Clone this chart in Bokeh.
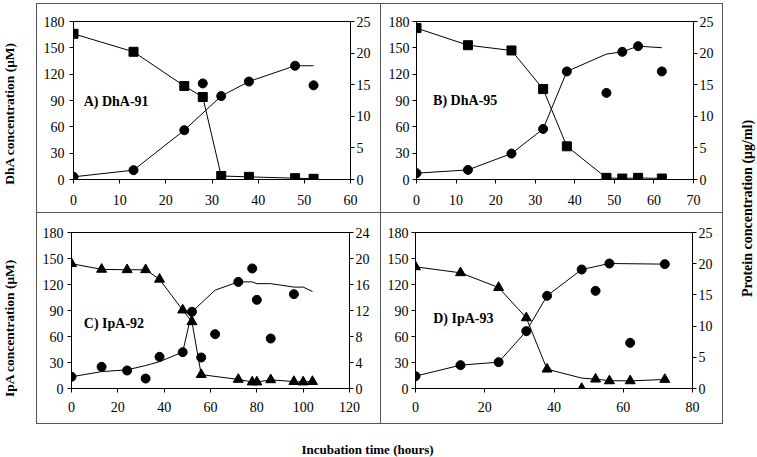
from math import pi
from bokeh.plotting import figure
from bokeh.models import Range1d, LinearAxis, Label, FixedTicker, Spacer
from bokeh.layouts import row, column
from bokeh.embed import file_html
from bokeh.resources import INLINE

FONT = "Liberation Serif"

# ---------------- data ----------------
# Panel A: DhA-91 (squares = DhA, µM; circles = protein, µg/ml)
a_time = [0, 13, 24, 28, 32, 38, 48, 52]
a_dha = [166, 145.5, 106.5, 94, 4, 3, 1.5, 0.8]
a_protein = [0.42, 1.48, 7.8, 15.2, 13.2, 15.5, 18.0, 14.9]
a_trend_time = [0, 13, 24, 32, 38, 48, 52]
a_trend_protein = [0.42, 1.48, 7.8, 13.2, 15.5, 18.0, 18.0]

# Panel B: DhA-95
b_time = [0, 13, 24, 32, 38, 48, 52, 56, 62]
b_dha = [172.5, 153, 147, 103, 37.8, 1.9, 1.1, 1.9, 1.1]
b_protein = [1.0, 1.52, 4.1, 8.0, 17.1, 13.7, 20.2, 21.1, 17.1]
b_trend_time = [0, 13, 24, 32, 38, 48, 52, 56, 62]
b_trend_protein = [1.0, 1.52, 4.1, 8.0, 17.1, 19.85, 20.2, 21.1, 20.85]

# Panel C: IpA-92 (triangles = IpA, µM; circles = protein, µg/ml)
c_time = [0, 13, 24, 32, 38, 48, 52, 56, 72, 78, 80, 86, 96, 100, 104]
c_ipa = [144, 137.5, 137, 137, 126, 90.5, 77, 16, 10.5, 7.5, 7.5, 10, 8, 7.5, 8]
c_prot_time = [0, 13, 24, 32, 38, 48, 52, 56, 62, 72, 78, 80, 86, 96]
c_protein = [1.8, 3.33, 2.77, 1.53, 4.87, 5.59, 11.8, 4.77, 8.36, 16.4, 18.47, 13.64, 7.69, 14.51]
c_trend_time = [0, 13, 24, 32, 38, 48, 52, 62, 72, 78, 80, 86, 96, 100, 104]
c_trend_protein = [1.8, 2.6, 2.87, 3.53, 4.13, 5.6, 11.8, 15.13, 16.4, 16.4, 16.13, 16.13, 15.6, 15.6, 14.93]

# Panel D: IpA-93
d_time = [0, 13, 24, 32, 38, 48, 52, 56, 62, 72]
d_ipa = [140.4, 133.5, 116.5, 81.5, 22.3, 0, 10.8, 8.8, 8.8, 10.4]
d_ipa_trend = [140.4, 133.5, 116.5, 81.5, 22.3, 12, 10.8, 9, 8.8, 10.4]
d_protein = [1.98, 3.74, 4.22, 9.19, 14.85, 19.07, 15.65, 20.03, 7.32, 19.93]
d_trend_time = [0, 13, 24, 32, 38, 48, 56, 72]
d_trend_protein = [1.98, 3.74, 4.22, 9.19, 14.85, 19.07, 20.03, 19.93]

# axis ticks
conc_ticks = [0, 30, 60, 90, 120, 150, 180]
prot_ticks_25 = [0, 5, 10, 15, 20, 25]
prot_ticks_24 = [0, 4, 8, 12, 16, 20, 24]
time_ticks_a = [0, 10, 20, 30, 40, 50, 60]
time_ticks_b = [0, 10, 20, 30, 40, 50, 60, 70]
time_ticks_c = [0, 20, 40, 60, 80, 100, 120]
time_ticks_d = [0, 20, 40, 60, 80]

panel_titles = ["A) DhA-91", "B) DhA-95", "C) IpA-92", "D) IpA-93"]
label_conc_dha = "DhA concentration (\u03bcM)"
label_conc_ipa = "IpA concentration (\u03bcM)"
label_protein = "Protein concentration (\u03bcg/ml)"
label_time = "Incubation time (hours)"

BOX = "#555555"


def style_axis(ax, standoff):
    ax.axis_line_color = "black"
    ax.axis_line_width = 1
    ax.major_tick_line_color = "black"
    ax.major_tick_out = 4
    ax.major_tick_in = 0
    ax.minor_tick_line_color = None
    ax.major_label_text_font = FONT
    ax.major_label_text_font_size = "14px"
    ax.major_label_text_color = "black"
    ax.major_label_standoff = standoff


def make_panel(fw, fh, bl, br, bt, bb, xticks, pticks, shadow, ly_off, lx_off):
    p = figure(frame_width=fw, frame_height=fh,
               min_border_left=bl, min_border_right=br,
               min_border_top=bt, min_border_bottom=bb,
               x_range=Range1d(xticks[0], xticks[-1]),
               y_range=Range1d(conc_ticks[0], conc_ticks[-1]),
               output_backend="svg", toolbar_location=None, tools="",
               border_fill_color=None, background_fill_color="white",
               outline_line_color="black", outline_line_width=1,
               styles={"box-shadow": shadow})
    p.extra_y_ranges = {"prot": Range1d(pticks[0], pticks[-1])}
    ax2 = LinearAxis(y_range_name="prot")
    p.add_layout(ax2, "right")
    p.xaxis.ticker = FixedTicker(ticks=xticks)
    p.yaxis[0].ticker = FixedTicker(ticks=conc_ticks)
    ax2.ticker = FixedTicker(ticks=pticks)
    style_axis(p.xaxis[0], lx_off)
    style_axis(p.yaxis[0], ly_off)
    style_axis(ax2, 2)
    p.xgrid.grid_line_color = None
    p.ygrid.grid_line_color = None
    return p


def add_title(p, text, x, y):
    p.add_layout(Label(x=x, y=y, text=text, text_font=FONT,
                       text_font_style="bold", text_font_size="14px",
                       text_color="black", text_baseline="middle",
                       text_align="left"))


sq = dict(marker="square", size=9, color="black")
ci = dict(marker="circle", size=9, color="black")
tr = dict(marker="triangle", size=10, color="black")
ln = dict(line_color="black", line_width=1)

# Panel A
pa = make_panel(277, 158, 37, 30, 17, 34, time_ticks_a, prot_ticks_25,
                "inset 1px 1px 0 0 " + BOX, 5, 11)
pa.line(a_time, a_dha, **ln)
pa.scatter(a_time, a_dha, **sq)
pa.line(a_trend_time, a_trend_protein, y_range_name="prot", **ln)
pa.scatter(a_time, a_protein, y_range_name="prot", **ci)
add_title(pa, panel_titles[0], 2.2, 89)

# Panel B
pb = make_panel(277, 158, 36, 30, 18, 33, time_ticks_b, prot_ticks_25,
                "inset 1px 1px 0 0 " + BOX + ", inset -1px 0 0 0 " + BOX, 3, 11)
pb.line(b_time, b_dha, **ln)
pb.scatter(b_time, b_dha, **sq)
pb.line(b_trend_time, b_trend_protein, y_range_name="prot", **ln)
pb.scatter(b_time, b_protein, y_range_name="prot", **ci)
add_title(pb, panel_titles[1], 4.2, 90)

# Panel C
pc = make_panel(278, 156, 35, 31, 20, 36, time_ticks_c, prot_ticks_24,
                "inset 1px 1px 0 0 " + BOX + ", inset 0 -1px 0 0 " + BOX, 4, 9)
pc.line(c_time, c_ipa, **ln)
pc.scatter(c_time, c_ipa, **tr)
pc.line(c_trend_time, c_trend_protein, y_range_name="prot", **ln)
pc.scatter(c_prot_time, c_protein, y_range_name="prot", **ci)
add_title(pc, panel_titles[2], 5.3, 75)

# Panel D
pd_ = make_panel(277, 156, 35, 31, 20, 36, time_ticks_d, prot_ticks_25,
                 "inset 1px 1px 0 0 " + BOX + ", inset -1px -1px 0 0 " + BOX, 3, 9)
pd_.line(d_time, d_ipa_trend, **ln)
pd_.scatter(d_time, d_ipa, **tr)
pd_.line(d_trend_time, d_trend_protein, y_range_name="prot", **ln)
pd_.scatter(d_time, d_protein, y_range_name="prot", **ci)
add_title(pd_, panel_titles[3], 5.1, 80.8)


def strip(w, h):
    s = figure(width=w, height=h, x_range=Range1d(0, w), y_range=Range1d(0, h),
               min_border=0, outline_line_color=None, toolbar_location=None,
               tools="", output_backend="svg", x_axis_type=None, y_axis_type=None,
               border_fill_color=None, background_fill_color=None)
    s.grid.visible = False
    return s


def big_label(s, text, x, y, angle, size):
    s.add_layout(Label(x=x, y=y, text=text, angle=angle, text_font=FONT,
                       text_font_style="bold", text_font_size=size,
                       text_color="black", text_align="center",
                       text_baseline="middle"))


left = strip(36, 424)
big_label(left, label_conc_dha, 9, 424 - 113, pi / 2, "13.5px")
big_label(left, label_conc_ipa, 9, 424 - 327.5, pi / 2, "13.5px")

right = strip(34, 424)
big_label(right, label_protein, 24, 424 - 208, pi / 2, "14px")

bottom = strip(757, 33)
big_label(bottom, label_time, 367, 8, 0, "13px")

panels = column(Spacer(width=687, height=3), row(pa, pb), row(pc, pd_))
layout = column(row(left, panels, right), bottom)

open("out.html", "w").write(file_html(layout, INLINE))
